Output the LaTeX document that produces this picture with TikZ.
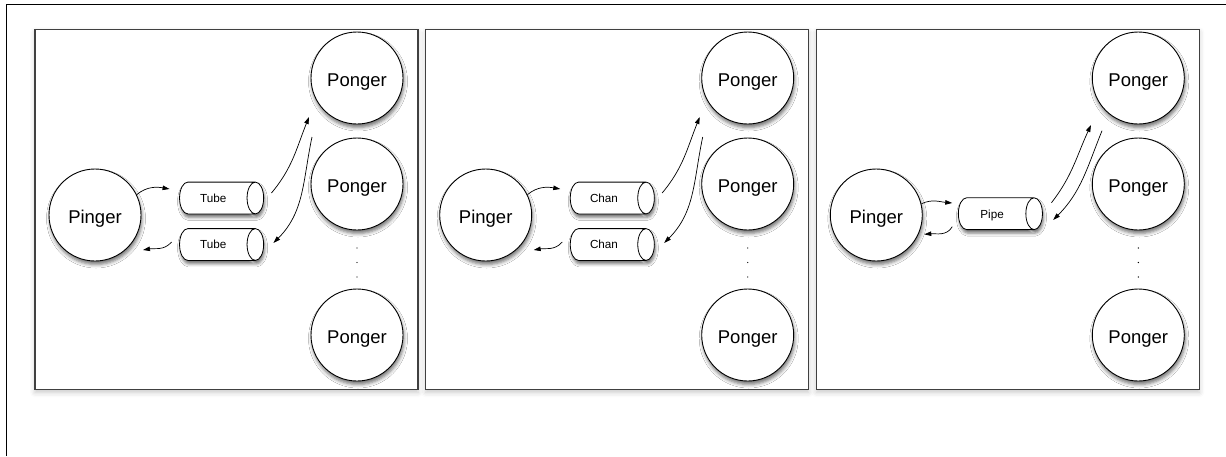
\documentclass[tikz,border=0pt]{standalone}
\usepackage{fontspec}
\setmainfont{Liberation Sans}
\usetikzlibrary{arrows.meta,shadows.blur,calc}

% A horizontal tube: the node box is the body, the end cap sticks out on the right
\newdimen\tbxa \newdimen\tbya \newdimen\tbxb \newdimen\tbyb \newdimen\tbrx \newdimen\tbry
\def\tubecaprx{8.3pt}
\makeatletter
\pgfdeclareshape{tubeshape}{%
  \inheritsavedanchors[from=rectangle]
  \inheritanchorborder[from=rectangle]
  \inheritanchor[from=rectangle]{center}
  \inheritanchor[from=rectangle]{north}
  \inheritanchor[from=rectangle]{south}
  \inheritanchor[from=rectangle]{east}
  \inheritanchor[from=rectangle]{west}
  \inheritanchor[from=rectangle]{north east}
  \inheritanchor[from=rectangle]{north west}
  \inheritanchor[from=rectangle]{south east}
  \inheritanchor[from=rectangle]{south west}
  \inheritanchor[from=rectangle]{base}
  \inheritanchor[from=rectangle]{mid}
  \backgroundpath{%
    \southwest \tbxa=\pgf@x \tbya=\pgf@y
    \northeast \tbxb=\pgf@x \tbyb=\pgf@y
    \tbrx=\tubecaprx
    \tbry=\tbyb \advance\tbry by -\tbya \tbry=.5\tbry
    % outline
    \pgfpathmoveto{\pgfpoint{\tbxa+\tbrx}{\tbyb}}%
    \pgfpatharc{90}{270}{\tbrx and \tbry}%
    \pgfpathlineto{\pgfpoint{\tbxb+\tbrx}{\tbya}}%
    \pgfpatharc{-90}{90}{\tbrx and \tbry}%
    \pgfpathclose
    % inner rim of the open end
    \pgfpathmoveto{\pgfpoint{\tbxb+\tbrx}{\tbyb}}%
    \pgfpatharc{90}{270}{\tbrx and \tbry}%
  }%
}
\makeatother

\tikzset{
  actor/.style={circle, draw=black, line width=0.9pt, fill=white,
    minimum size=92pt, inner sep=0pt, font=\fontsize{18.5}{20}\selectfont,
    text height=17.6pt, text depth=0pt,
    blur shadow={shadow xshift=1pt, shadow yshift=-3.5pt,
      shadow blur radius=3.5pt, shadow opacity=55}},
  chan/.style={shape=tubeshape, draw=black, line width=0.8pt, fill=white,
    minimum width=66.7pt, minimum height=31pt, inner sep=0pt,
    font=\fontsize{11.7}{13}\selectfont, text height=8.6pt, text depth=0pt,
    blur shadow={shadow xshift=1pt, shadow yshift=-3.5pt,
      shadow blur radius=3pt, shadow opacity=55}},
  panel/.style={rectangle, draw=black!75, line width=1.1pt, fill=white,
    minimum width=383pt, minimum height=360pt, inner sep=0pt,
    blur shadow={shadow xshift=0pt, shadow yshift=-3pt,
      shadow blur radius=5pt, shadow opacity=22}},
  link/.style={line width=0.7pt, -{Triangle[length=7pt,width=4.5pt]}},
}

% One pinger, two one-way channels, a column of pongers
\newcommand{\tubepanel}[3]{% #1 left edge, #2 channel label, #3 name suffix
  \begin{scope}[xshift=#1pt]
    \node[panel] (frame#3) at (191.5,-209.3) {};
    \node[actor] (pi#3) at (60,-215) {Pinger};
    \node[actor] (poa#3) at (322,-78) {Ponger};
    \node[actor] (pob#3) at (322,-184) {Ponger};
    \node[actor] (poc#3) at (322,-335) {Ponger};
    \fill (322,-248) circle (0.7) (322,-262.5) circle (0.7) (322,-277) circle (0.7);
    \node[chan] (ta#3) at (178.3,-198) {#2};
    \node[chan] (tb#3) at (178.3,-244.5) {#2};
    \draw[link] (pi#3.26) to[out=40,in=170] ($(ta#3.west)+(-10,9)$);
    \draw[link] ($(tb#3.west)+(-8,2.5)$) to[out=-130,in=10] ($(pi#3)+(48,-35)$);
    \draw[link] ($(ta#3.east)+(24.4,5)$) to[out=50,in=-112] ($(poa#3)+(-48,-39)$);
    \draw[link] ($(poa#3)+(-45,-59)$) to[out=-102,in=45] ($(tb#3.east)+(26.4,1.5)$);
  \end{scope}}

\begin{document}
\begin{tikzpicture}[x=1pt,y=1pt]
  \useasboundingbox (0,0) rectangle (1226,-456);
  % outer frame, open to the right and bottom
  \draw[line width=1pt] (6.3,-456) -- (6.3,-4.3) -- (1226,-4.3);

  \tubepanel{35}{Tube}{A}
  \tubepanel{425.7}{Chan}{B}

  % one two-way pipe
  \begin{scope}[xshift=816.3pt]
    \node[panel] (frameC) at (191.5,-209.3) {};
    \node[actor] (piC) at (60,-215) {Pinger};
    \node[actor] (poaC) at (322,-78) {Ponger};
    \node[actor] (pobC) at (322,-184) {Ponger};
    \node[actor] (pocC) at (322,-335) {Ponger};
    \fill (322,-248) circle (0.7) (322,-262.5) circle (0.7) (322,-277) circle (0.7);
    \node[chan] (pp) at (175.8,-213.7) {Pipe};
    \draw[link] (piC.14) to[out=25,in=175] ($(pp.west)+(-6.1,10.7)$);
    \draw[link] ($(pp.west)+(-6.1,-13)$) to[out=-120,in=5] ($(piC)+(48,-19.3)$);
    \draw[link] ($(pp.east)+(25.6,11)$) to[out=52,in=-115] ($(poaC)+(-47.3,-47)$);
    \draw[link] ($(poaC)+(-36.3,-52.7)$) to[out=-112,in=45] ($(pp.east)+(27.3,-6.3)$);
  \end{scope}
\end{tikzpicture}
\end{document}
